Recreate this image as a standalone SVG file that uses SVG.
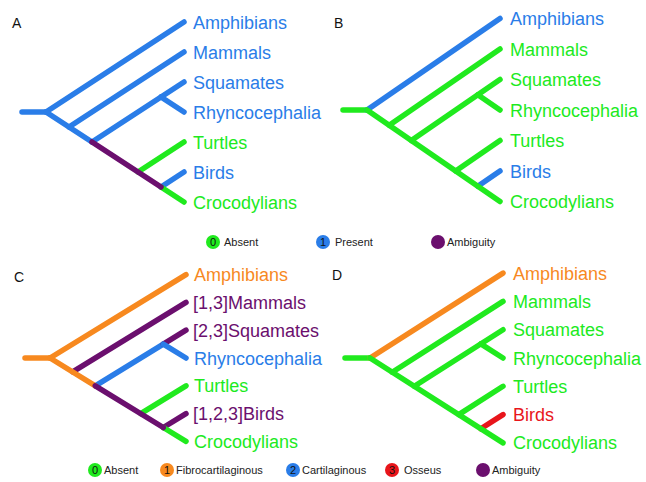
<svg xmlns="http://www.w3.org/2000/svg" width="646" height="482" viewBox="0 0 646 482">
<style>
.e{fill:none;stroke-width:5.5;stroke-linecap:round}
.b{stroke:#2a7de8}.g{stroke:#20ea1e}.p{stroke:#6b0f6e}.o{stroke:#f7891f}.r{stroke:#e8151b}
.t{font-family:"Liberation Sans",Arial,sans-serif;font-size:18px}
.tb{fill:#2a7de8}.tg{fill:#20ea1e}.tp{fill:#6b0f6e}.to{fill:#f7891f}.tr{fill:#e8151b}
.pl{font-family:"Liberation Sans",Arial,sans-serif;font-size:14px;fill:#111}
.lg{font-family:"Liberation Sans",Arial,sans-serif;font-size:11px;fill:#222}
.ln{font-family:"Liberation Sans",Arial,sans-serif;font-size:11px;fill:#111;text-anchor:middle}
</style>
<rect width="646" height="482" fill="#fff"/>

<g id="panelA">
<text class="pl" x="12" y="28">A</text>
<g id="A-connectors">
<line class="e b" x1="22" y1="112" x2="46" y2="112"/>
<line class="e b" x1="46" y1="112" x2="184" y2="22"/>
<line class="e b" x1="69" y1="127" x2="184" y2="52"/>
<line class="e b" x1="92" y1="142" x2="184" y2="82"/>
<line class="e b" x1="161" y1="97" x2="184" y2="112"/>
<line class="e g" x1="138" y1="172" x2="184" y2="142"/>
<line class="e b" x1="161" y1="187" x2="184" y2="172"/>
<line class="e g" x1="161" y1="187" x2="184" y2="202"/>
<line class="e b" x1="46" y1="112" x2="92" y2="142"/>
<line class="e p" x1="92" y1="142" x2="161" y2="187"/>
</g>
<g id="A-Amphibians"><text class="t tb" x="193" y="28.5">Amphibians</text></g>
<g id="A-Mammals"><text class="t tb" x="193" y="58.5">Mammals</text></g>
<g id="A-Squamates"><text class="t tb" x="193" y="88.5">Squamates</text></g>
<g id="A-Rhyncocephalia"><text class="t tb" x="193" y="118.5">Rhyncocephalia</text></g>
<g id="A-Turtles"><text class="t tg" x="193" y="148.5">Turtles</text></g>
<g id="A-Birds"><text class="t tb" x="193" y="178.5">Birds</text></g>
<g id="A-Crocodylians"><text class="t tg" x="193" y="208.5">Crocodylians</text></g>
</g>

<g id="panelB">
<text class="pl" x="334" y="28">B</text>
<g id="B-connectors">
<line class="e g" x1="343" y1="110" x2="367" y2="110"/>
<line class="e b" x1="367" y1="110" x2="500" y2="18.5"/>
<line class="e g" x1="389.2" y1="125.3" x2="500" y2="49"/>
<line class="e g" x1="411.3" y1="140.5" x2="500" y2="79.5"/>
<line class="e g" x1="477.8" y1="94.8" x2="500" y2="110"/>
<line class="e g" x1="455.7" y1="171" x2="500" y2="140.5"/>
<line class="e b" x1="477.8" y1="186.3" x2="500" y2="171"/>
<line class="e g" x1="367" y1="110" x2="500" y2="201.5"/>
</g>
<g id="B-Amphibians"><text class="t tb" x="510" y="25">Amphibians</text></g>
<g id="B-Mammals"><text class="t tg" x="510" y="55.5">Mammals</text></g>
<g id="B-Squamates"><text class="t tg" x="510" y="86">Squamates</text></g>
<g id="B-Rhyncocephalia"><text class="t tg" x="510" y="116.5">Rhyncocephalia</text></g>
<g id="B-Turtles"><text class="t tg" x="510" y="147">Turtles</text></g>
<g id="B-Birds"><text class="t tb" x="510" y="177.5">Birds</text></g>
<g id="B-Crocodylians"><text class="t tg" x="510" y="208">Crocodylians</text></g>
</g>

<g id="legend1">
<circle cx="213" cy="242" r="7" fill="#20ea1e"/><text class="ln" x="213" y="246">0</text>
<text class="lg" x="224" y="246">Absent</text>
<circle cx="323" cy="242" r="7" fill="#2a7de8"/><text class="ln" x="323" y="246">1</text>
<text class="lg" x="335" y="246">Present</text>
<circle cx="438" cy="242" r="7" fill="#6b0f6e"/>
<text class="lg" x="447" y="246">Ambiguity</text>
</g>

<g id="panelC">
<text class="pl" x="14" y="282">C</text>
<g id="C-connectors">
<line class="e o" x1="25" y1="358" x2="50" y2="358"/>
<line class="e o" x1="50" y1="358" x2="186" y2="274.6"/>
<line class="e p" x1="72.7" y1="371.9" x2="186" y2="302.4"/>
<line class="e b" x1="95.3" y1="385.8" x2="163.3" y2="344.1"/>
<line class="e p" x1="163.3" y1="344.1" x2="186" y2="330.2"/>
<line class="e b" x1="163.3" y1="344.1" x2="186" y2="358"/>
<line class="e g" x1="140.7" y1="413.6" x2="186" y2="385.8"/>
<line class="e p" x1="163.3" y1="427.5" x2="186" y2="413.6"/>
<line class="e g" x1="163.3" y1="427.5" x2="186" y2="441.4"/>
<line class="e o" x1="50" y1="358" x2="95.3" y2="385.8"/>
<line class="e p" x1="95.3" y1="385.8" x2="163.3" y2="427.5"/>
</g>
<g id="C-Amphibians"><text class="t to" x="194" y="281">Amphibians</text></g>
<g id="C-Mammals"><text class="t tp" x="193" y="309">[1,3]Mammals</text></g>
<g id="C-Squamates"><text class="t tp" x="193" y="336.5">[2,3]Squamates</text></g>
<g id="C-Rhyncocephalia"><text class="t tb" x="194" y="364.5">Rhyncocephalia</text></g>
<g id="C-Turtles"><text class="t tg" x="194" y="392">Turtles</text></g>
<g id="C-Birds"><text class="t tp" x="193" y="420">[1,2,3]Birds</text></g>
<g id="C-Crocodylians"><text class="t tg" x="194" y="448">Crocodylians</text></g>
</g>

<g id="panelD">
<text class="pl" x="332" y="280">D</text>
<g id="D-connectors">
<line class="e g" x1="345" y1="358" x2="370" y2="358"/>
<line class="e o" x1="370" y1="358" x2="503" y2="273.1"/>
<line class="e g" x1="392.2" y1="372.2" x2="503" y2="301.4"/>
<line class="e g" x1="414.3" y1="386.3" x2="503" y2="329.7"/>
<line class="e g" x1="480.8" y1="343.9" x2="503" y2="358"/>
<line class="e g" x1="458.7" y1="414.6" x2="503" y2="386.3"/>
<line class="e r" x1="480.8" y1="428.8" x2="503" y2="414.6"/>
<line class="e g" x1="370" y1="358" x2="503" y2="442.9"/>
</g>
<g id="D-Amphibians"><text class="t to" x="513" y="279.6">Amphibians</text></g>
<g id="D-Mammals"><text class="t tg" x="513" y="307.9">Mammals</text></g>
<g id="D-Squamates"><text class="t tg" x="513" y="336.2">Squamates</text></g>
<g id="D-Rhyncocephalia"><text class="t tg" x="513" y="364.5">Rhyncocephalia</text></g>
<g id="D-Turtles"><text class="t tg" x="513" y="392.8">Turtles</text></g>
<g id="D-Birds"><text class="t tr" x="513" y="421.1">Birds</text></g>
<g id="D-Crocodylians"><text class="t tg" x="513" y="449.4">Crocodylians</text></g>
</g>

<g id="legend2">
<circle cx="95" cy="470" r="7" fill="#20ea1e"/><text class="ln" x="95" y="474">0</text>
<text class="lg" x="104" y="474">Absent</text>
<circle cx="167" cy="470" r="7" fill="#f7891f"/><text class="ln" x="167" y="474">1</text>
<text class="lg" x="176" y="474">Fibrocartilaginous</text>
<circle cx="293" cy="470" r="7" fill="#2a7de8"/><text class="ln" x="293" y="474">2</text>
<text class="lg" x="302" y="474">Cartilaginous</text>
<circle cx="392" cy="470" r="7" fill="#e8151b"/><text class="ln" x="392" y="474">3</text>
<text class="lg" x="404" y="474">Osseus</text>
<circle cx="483" cy="470" r="7" fill="#6b0f6e"/>
<text class="lg" x="492" y="474">Ambiguity</text>
</g>
</svg>
